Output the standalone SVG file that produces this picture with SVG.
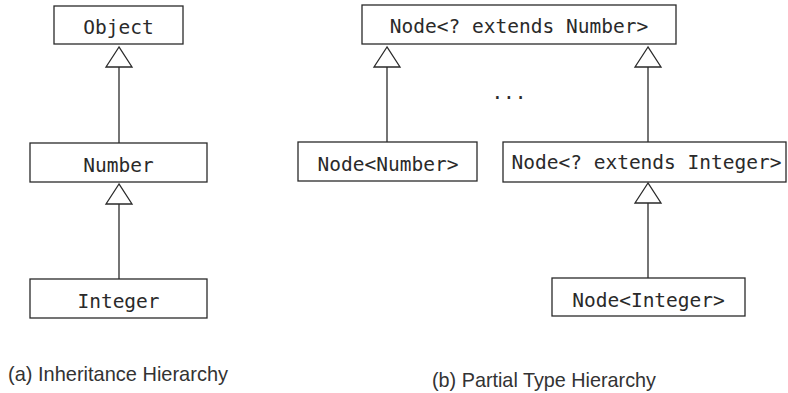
<svg xmlns="http://www.w3.org/2000/svg" width="788" height="393" viewBox="0 0 788 393">
<style>
.box{fill:#fff;stroke:#2a2a2a;stroke-width:1.3}
.lbl{font-family:"DejaVu Sans Mono",monospace;font-size:19.5px;fill:#2a2a2a;text-anchor:middle}
.cap{font-family:"Liberation Sans",Arial,sans-serif;font-size:21px;fill:#333}
.edge{stroke:#2a2a2a;stroke-width:1.3;fill:none}
.tri{fill:#fff;stroke:#2a2a2a;stroke-width:1.3;stroke-linejoin:miter}
</style>
<rect width="788" height="393" fill="#fff"/>
<g id="connectors">
<line class="edge" x1="119" y1="67" x2="119" y2="143"/>
<polygon class="tri" points="119,47 106,67 132,67"/>
<line class="edge" x1="119" y1="204" x2="119" y2="279"/>
<polygon class="tri" points="119,184 106,204 132,204"/>
<line class="edge" x1="387" y1="67" x2="387" y2="142"/>
<polygon class="tri" points="387,47 374,67 400,67"/>
<line class="edge" x1="648" y1="67" x2="648" y2="142"/>
<polygon class="tri" points="648,47 635,67 661,67"/>
<line class="edge" x1="648" y1="203" x2="648" y2="278"/>
<polygon class="tri" points="648,183 635,203 661,203"/>
</g>
<g id="object"><rect class="box" x="54" y="6" width="129" height="38"/><text class="lbl" x="118.5" y="34.3">Object</text></g>
<g id="number"><rect class="box" x="30" y="143" width="177" height="39"/><text class="lbl" x="118.5" y="172">Number</text></g>
<g id="integer"><rect class="box" x="30" y="279" width="177" height="39"/><text class="lbl" x="118.5" y="308">Integer</text></g>
<g id="node-ext-number"><rect class="box" x="362" y="5" width="314" height="39"/><text class="lbl" x="519" y="33">Node&lt;? extends Number&gt;</text></g>
<g id="node-number"><rect class="box" x="298" y="142" width="179" height="39"/><text class="lbl" x="388" y="170.5">Node&lt;Number&gt;</text></g>
<g id="node-ext-integer"><rect class="box" x="503" y="142" width="283" height="40"/><text class="lbl" x="646.5" y="168.5">Node&lt;? extends Integer&gt;</text></g>
<g id="node-integer"><rect class="box" x="552" y="278" width="193" height="38"/><text class="lbl" x="648.5" y="306.5">Node&lt;Integer&gt;</text></g>
<text class="lbl" x="509" y="99">...</text>
<text class="cap" x="8" y="381" textLength="220" lengthAdjust="spacingAndGlyphs">(a) Inheritance Hierarchy</text>
<text class="cap" x="432" y="387" textLength="224" lengthAdjust="spacingAndGlyphs">(b) Partial Type Hierarchy</text>
</svg>
